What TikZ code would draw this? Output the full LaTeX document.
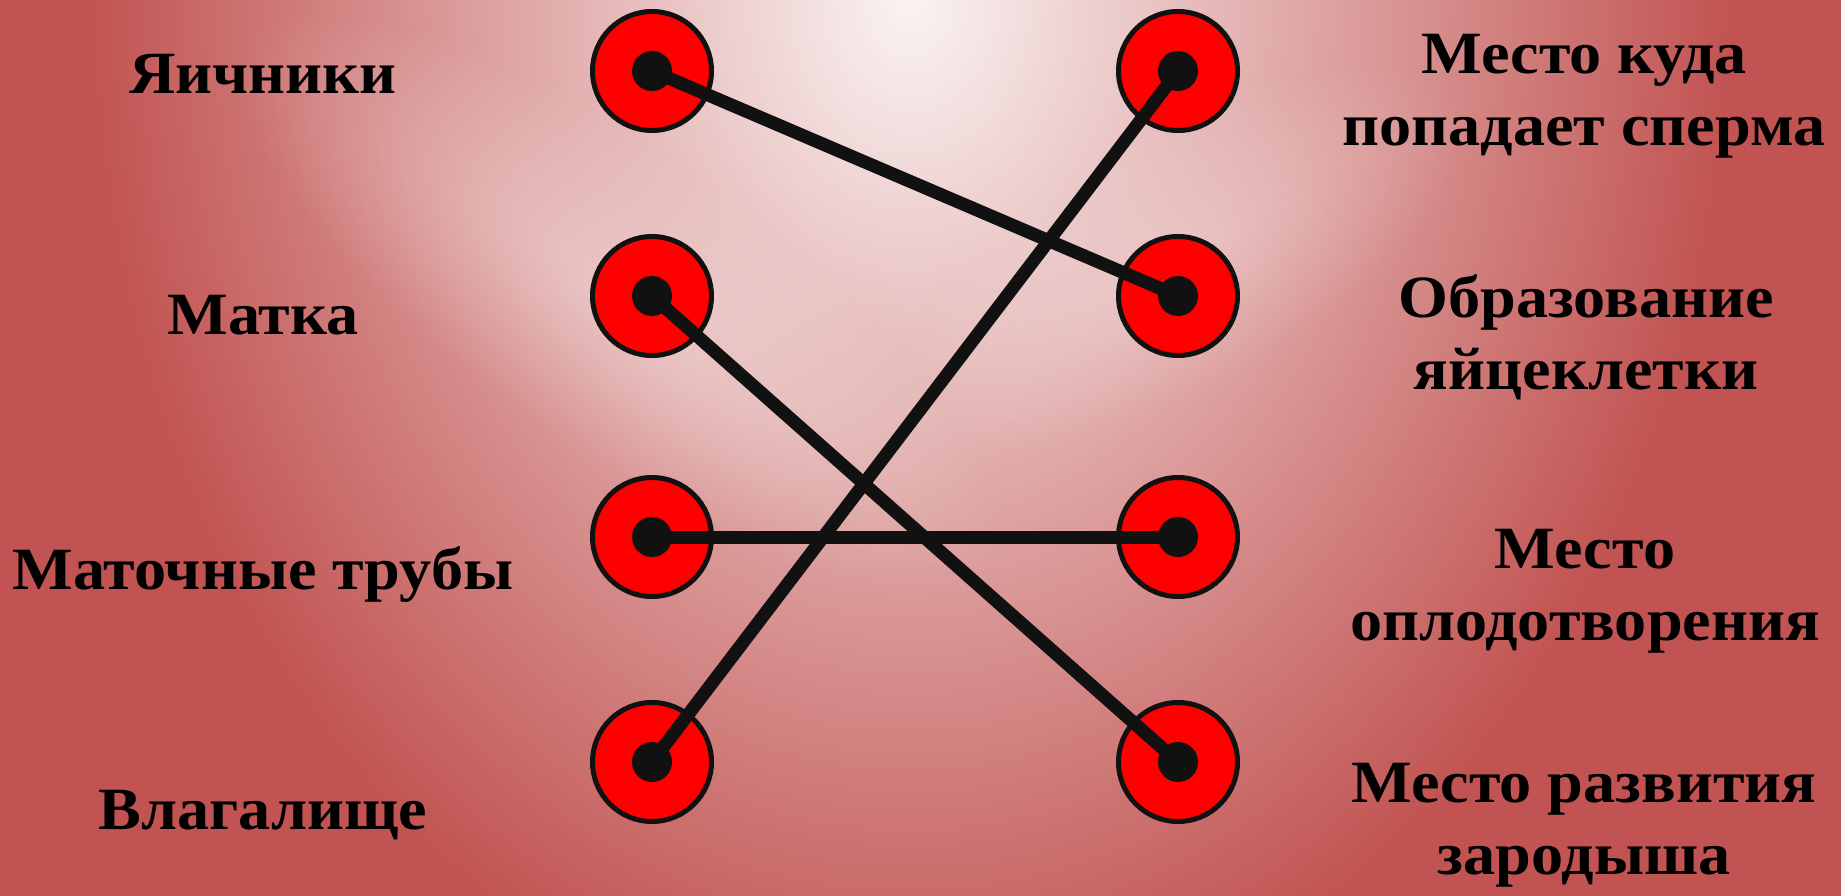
\documentclass[tikz,border=0pt]{standalone}
\usepackage{fontspec}
\setmainfont[FakeStretch=1.07]{Liberation Serif}
\usetikzlibrary{fadings}
\tikzfading[name=softspot, inner color=transparent!0, outer color=transparent!100]
\begin{document}
\begin{tikzpicture}[x=1pt,y=-1pt]
\definecolor{bgred}{RGB}{193,84,82}
\definecolor{bgwhite}{RGB}{250,243,243}
\definecolor{dotred}{RGB}{255,0,0}
\definecolor{ink}{RGB}{17,17,17}
\tikzset{
  lbl/.style={font=\bfseries\fontsize{60}{72}\selectfont, align=center, inner sep=0pt, text=black},
  ring/.style={circle, draw=ink, line width=5pt, fill=dotred, minimum size=119pt, inner sep=0pt},
  dot/.style={circle, fill=ink, minimum size=40pt, inner sep=0pt},
  link/.style={draw=ink, line width=13pt}
}
\fill[bgred] (0,0) rectangle (1841,896);
\begin{scope}
\clip (0,0) rectangle (1841,896);
\shade[inner color=bgwhite, outer color=bgred] (910,0) ellipse [x radius=820pt, y radius=1050pt];
\begin{scope}[transform canvas={rotate around={-35:(620,300)}}]
\fill[bgwhite, fill opacity=0.4, path fading=softspot] (620,300) ellipse [x radius=460pt, y radius=150pt];
\end{scope}
\begin{scope}[transform canvas={rotate around={30:(1180,260)}}]
\fill[bgwhite, fill opacity=0.3, path fading=softspot] (1180,260) ellipse [x radius=330pt, y radius=130pt];
\end{scope}
\end{scope}
\useasboundingbox (0,0) rectangle (1841,896);

% labels
\node[lbl, anchor=base] (t1) at (263,94) {Яичники};
\node[lbl, anchor=base] (t2) at (263,334) {Матка};
\node[lbl, anchor=base] (t3) at (263,589) {Маточные трубы};
\node[lbl, anchor=base] (t4) at (263,829) {Влагалище};
\node[lbl, anchor=base] (s1) at (1584,146) {Место куда\\попадает сперма};
\node[lbl, anchor=base] (s2) at (1586,389) {Образование\\яйцеклетки};
\node[lbl, anchor=base] (s3) at (1585,640) {Место\\оплодотворения};
\node[lbl, anchor=base] (s4) at (1584,874) {Место развития\\зародыша};

% rings
\node[ring] (L1) at (652,71) {};
\node[ring] (L2) at (652,296) {};
\node[ring] (L3) at (652,537) {};
\node[ring] (L4) at (652,762) {};
\node[ring] (R1) at (1178,71) {};
\node[ring] (R2) at (1178,296) {};
\node[ring] (R3) at (1178,537) {};
\node[ring] (R4) at (1178,762) {};

% connectors
\draw[link] (L1.center) -- (R2.center);
\draw[link] (L2.center) -- (R4.center);
\draw[link] (L3.center) -- (R3.center);
\draw[link] (L4.center) -- (R1.center);

% dots
\foreach \n in {L1,L2,L3,L4,R1,R2,R3,R4}
  \node[dot] (d\n) at (\n.center) {};
\end{tikzpicture}
\end{document}
